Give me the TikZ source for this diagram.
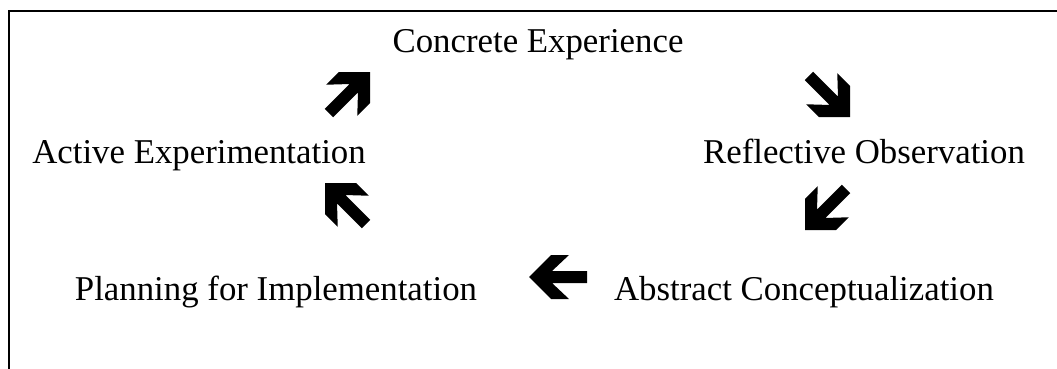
\documentclass[tikz,border=0pt]{standalone}
\usepackage{fontspec}
\setmainfont{Liberation Serif}
\begin{document}
\begin{tikzpicture}[x=1pt,y=1pt,
  stage/.style={anchor=base,inner sep=0pt,font=\fontsize{34.8}{40}\selectfont},
  frameline/.style={line width=2pt,line cap=rect},
  blockarrow/.pic={
    \fill[black] (0,0) -- (-22,22) -- (-40,22) -- (-23,6) -- (-58,6)
      -- (-58,-6) -- (-23,-6) -- (-40,-22) -- (-22,-22) -- cycle;
  }]
  \useasboundingbox (0,0) rectangle (1057,368);

  % open frame: left and top edges only
  \coordinate (cornerTL) at (9,357.5);
  \coordinate (frameBottom) at (9,0);
  \coordinate (frameRight) at (1057,357.5);
  \draw[frameline] (frameBottom) -- (cornerTL) -- (frameRight);

  % the five stages of the cycle
  \node[stage] (ce) at (538,316) {Concrete Experience};
  \node[stage] (ro) at (864,205) {Reflective Observation};
  \node[stage] (ac) at (804,68)  {Abstract Conceptualization};
  \node[stage] (pi) at (276,68)  {Planning for Implementation};
  \node[stage] (ae) at (199,205) {Active Experimentation};

  % heavy block arrows between the stages (tip at the pic origin)
  \pic[rotate=-45]  at (850,251) {blockarrow};
  \pic[rotate=-135] at (805,138) {blockarrow};
  \pic[rotate=180]  at (529,91)  {blockarrow};
  \pic[rotate=135]  at (325,185) {blockarrow};
  \pic[rotate=45]   at (370,296) {blockarrow};
\end{tikzpicture}
\end{document}
